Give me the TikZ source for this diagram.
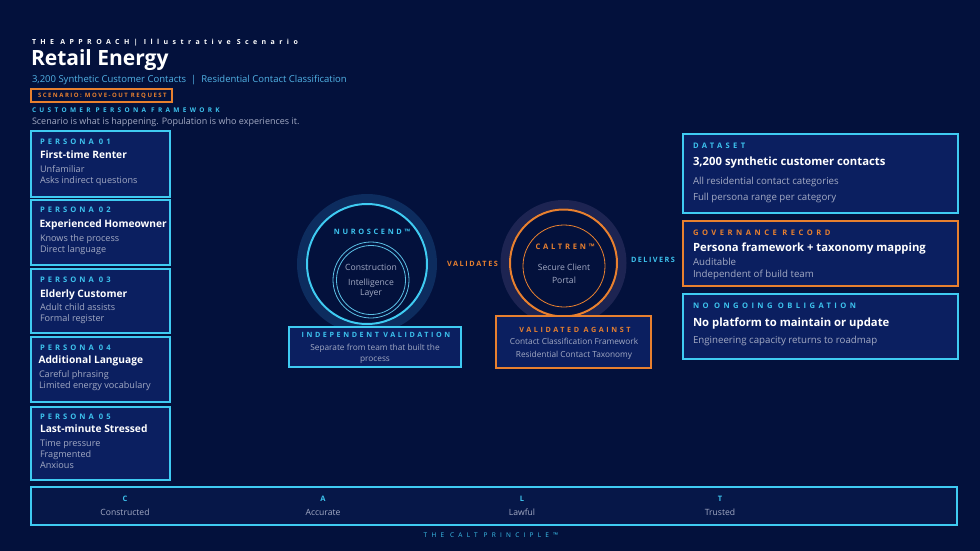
\documentclass[tikz,border=0pt]{standalone}
\usepackage{fontspec}
\setmainfont{Open Sans}
\definecolor{bg}{HTML}{03113C}
\definecolor{boxfill}{HTML}{0B1F60}
\definecolor{cyanb}{HTML}{3FCBF2}
\definecolor{cyant}{HTML}{3DC3EE}
\definecolor{orng}{HTML}{E8802F}
\definecolor{gry}{HTML}{A3AAC4}
\definecolor{subblue}{HTML}{52B3E6}
\definecolor{glowN}{HTML}{0D2C5E}
\definecolor{glowC}{HTML}{1D2452}
\definecolor{barfill}{HTML}{061748}
\definecolor{innerc}{HTML}{5BBFE4}
\newcommand\trk[2]{{\addfontfeature{LetterSpace=#1}#2}}
\newcommand\fsz[1]{\fontsize{#1}{#1}\selectfont}
\tikzset{
  txt/.style={inner sep=0pt, outer sep=0pt},
  lw/.style={txt, anchor=base west},
  lc/.style={txt, anchor=base},
  pbox/.style={draw=cyanb, line width=1.5pt, fill=boxfill},
  obox/.style={draw=orng, line width=1.5pt, fill=boxfill},
  plabel/.style={lw, text=cyant, font=\fsz{7.6}\bfseries},
  ptitle/.style={lw, text=white, font=\fsz{10.2}\bfseries},
  pline/.style={lw, text=gry, font=\fsz{9.1}},
  rtitle/.style={lw, text=white, font=\fsz{11.3}\bfseries},
  rline/.style={lw, text=gry, font=\fsz{9.7}},
}
\begin{document}
\begin{tikzpicture}[x=1pt,y=-1pt]
\fill[bg] (0,0) rectangle (980,551);
\useasboundingbox (0,0) rectangle (980,551);

% header
\node[lw, text=white, font=\fsz{7}\bfseries] (hdr) at (32,45) {\trk{63}{THE APPROACH| Illustrative Scenario}};
\node[lw, text=white, font=\fsz{21}\bfseries] (title) at (31,66) {Retail Energy};
\node[lw, text=subblue, font=\fsz{9.5}] (sub) at (32,82) {3,200 Synthetic Customer Contacts \ \textbar\ \ Residential Contact Classification};
\draw[orng, line width=1.3pt] (31,89) rectangle (172,102);
\node[lw, text=orng, font=\fsz{6}\bfseries] (scen) at (38,97) {\trk{25}{SCENARIO: MOVE-OUT REQUEST}};
\node[lw, text=cyant, font=\fsz{6.5}\bfseries] (cpf) at (32,112) {\trk{51}{CUSTOMER PERSONA FRAMEWORK}};
\node[lw, text=gry, font=\fsz{9}] (cpfsub) at (32,124) {Scenario is what is happening. Population is who experiences it.};

% persona boxes
\draw[pbox] (31,131) rectangle (170,197);
\node[plabel] (p1l) at (40,144) {\trk{40}{PERSONA 01}};
\node[ptitle] (p1t) at (40,158.5) {First-time Renter};
\node[pline] (p1a) at (40,172) {Unfamiliar};
\node[pline] (p1b) at (40,183) {Asks indirect questions};

\draw[pbox] (31,200) rectangle (170,265);
\node[plabel] (p2l) at (40,212.5) {\trk{40}{PERSONA 02}};
\node[ptitle] (p2t) at (39.5,227.5) {Experienced Homeowner};
\node[pline] (p2a) at (40,241.5) {Knows the process};
\node[pline] (p2b) at (40,252.5) {Direct language};

\draw[pbox] (31,269) rectangle (170,333);
\node[plabel] (p3l) at (40,282) {\trk{40}{PERSONA 03}};
\node[ptitle] (p3t) at (40,297) {Elderly Customer};
\node[pline] (p3a) at (40,310.5) {Adult child assists};
\node[pline] (p3b) at (40,321.5) {Formal register};

\draw[pbox] (31,337) rectangle (170,402);
\node[plabel] (p4l) at (40,350) {\trk{40}{PERSONA 04}};
\node[ptitle] (p4t) at (38.5,363.5) {Additional Language};
\node[pline] (p4a) at (39,377.5) {Careful phrasing};
\node[pline] (p4b) at (39,388.5) {Limited energy vocabulary};

\draw[pbox] (31,407) rectangle (170,480);
\node[plabel] (p5l) at (40,419.5) {\trk{40}{PERSONA 05}};
\node[ptitle] (p5t) at (40,432.5) {Last-minute Stressed};
\node[pline] (p5a) at (40,446.5) {Time pressure};
\node[pline] (p5b) at (40,457.5) {Fragmented};
\node[pline] (p5c) at (40,468.5) {Anxious};

% NUROSCEND circle
\fill[glowN] (367,264) circle (70);
\fill[bg] (367,264) circle (61);
\draw[cyanb, line width=2pt] (367,264) circle (60);
\draw[innerc, line width=0.8pt] (371,280) circle (38);
\draw[innerc, line width=0.8pt] (371,280) circle (34.5);
\node[lc, text=cyant, font=\fsz{7.4}\bfseries] (nuro) at (372,234.5) {\trk{36}{NUROSCEND™}};
\node[lc, text=gry, font=\fsz{8.6}] (nuroa) at (371,270) {Construction};
\node[lc, text=gry, font=\fsz{8.6}] (nurob) at (371,285) {Intelligence};
\node[lc, text=gry, font=\fsz{8.6}] (nuroc) at (371,295.5) {Layer};

\draw[cyanb, line width=1.3pt, fill=boxfill] (289,327) rectangle (461,367);
\node[lc, text=cyant, font=\fsz{7.2}\bfseries] (ivl) at (376,337.5) {\trk{36}{INDEPENDENT VALIDATION}};
\node[lc, text=gry, font=\fsz{8.3}] (iva) at (375,350) {Separate from team that built the};
\node[lc, text=gry, font=\fsz{8.3}] (ivb) at (375,361) {process};

% labels between
\node[lw, text=orng, font=\fsz{7.3}\bfseries] (valid) at (447,266.5) {\trk{22}{VALIDATES}};
\node[lw, text=cyant, font=\fsz{7.3}\bfseries] (deliv) at (631,262) {\trk{20}{DELIVERS}};

% CALTREN circle
\fill[glowC] (563.5,263) circle (63);
\fill[bg] (563.5,263) circle (54.5);
\draw[orng, line width=2pt] (563.5,263) circle (53.5);
\draw[orng, line width=0.8pt] (564,266) circle (41);
\node[lc, text=orng, font=\fsz{7.6}\bfseries] (calt) at (565,249.5) {\trk{36}{CALTREN™}};
\node[lc, text=gry, font=\fsz{8.6}] (calta) at (564,270) {Secure Client};
\node[lc, text=gry, font=\fsz{8.6}] (caltb) at (564,283.5) {Portal};

\draw[orng, line width=1.3pt, fill=boxfill] (496,316) rectangle (651,368);
\node[lc, text=orng, font=\fsz{7.2}\bfseries] (val) at (575,332) {\trk{36}{VALIDATED AGAINST}};
\node[lc, text=gry, font=\fsz{8.3}] (vala) at (574,344.5) {Contact Classification Framework};
\node[lc, text=gry, font=\fsz{8.3}] (valb) at (574,357.5) {Residential Contact Taxonomy};

% right boxes
\draw[pbox] (683,134) rectangle (958,213);
\node[plabel] (dsl) at (693,148.5) {\trk{44}{DATASET}};
\node[rtitle] (dst) at (693,165.5) {3,200 synthetic customer contacts};
\node[rline] (dsa) at (693,184) {All residential contact categories};
\node[rline] (dsb) at (693,200) {Full persona range per category};

\draw[obox] (683,221) rectangle (958,286);
\node[plabel, text=orng] (grl) at (693,235.5) {\trk{46}{GOVERNANCE RECORD}};
\node[rtitle] (grt) at (693,251.5) {Persona framework + taxonomy mapping};
\node[rline] (gra) at (693,265) {Auditable};
\node[rline] (grb) at (693,277) {Independent of build team};

\draw[pbox] (683,294) rectangle (958,359);
\node[plabel] (nol) at (693,308.5) {\trk{45}{NO ONGOING OBLIGATION}};
\node[rtitle] (not) at (693,326.5) {No platform to maintain or update};
\node[rline] (noa) at (693,343.5) {Engineering capacity returns to roadmap};

% bottom bar
\draw[cyanb, line width=1.5pt, fill=barfill] (31,487) rectangle (957,525);
\foreach \x/\l/\w/\n in {125/C/Constructed/c, 323/A/Accurate/a, 522/L/Lawful/l, 720/T/Trusted/t}{
  \node[lc, text=cyant, font=\fsz{7.5}\bfseries] (bl\n) at (\x,501.5) {\l};
  \node[lc, text=gry, font=\fsz{8.6}] (bw\n) at (\x,515.5) {\w};
}
\node[lc, text=cyant, font=\fsz{6.5}] (princ) at (491,537.5) {\trk{65}{THE CALT PRINCIPLE™}};
\end{tikzpicture}
\end{document}
